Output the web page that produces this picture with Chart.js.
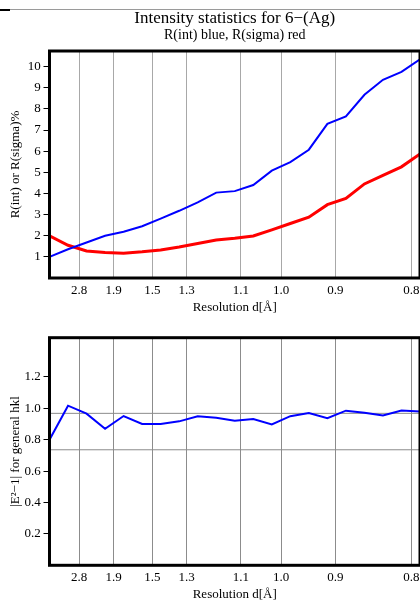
<!DOCTYPE html>
<html>
<head>
<meta charset="utf-8">
<title>Intensity statistics for 6−(Ag)</title>
<script src="https://cdn.jsdelivr.net/npm/chart.js@4/dist/chart.umd.min.js"></script>
<style>
  html, body { margin: 0; padding: 0; background: #fff; }
  body { width: 420px; height: 606px; position: relative; overflow: hidden; }
  .rule { position: absolute; left: 0; top: 9px; width: 420px; height: 1px; background: #9a9a9a; }
  .rule-mark { position: absolute; left: 0; top: 9px; width: 10px; height: 2px; background: #000; }
  #rfactors { position: absolute; left: 0; top: 0; }
  #evalues { position: absolute; left: 0; top: 320px; }
</style>
</head>
<body>
<div class="rule"></div><div class="rule-mark"></div>
<canvas id="rfactors" width="420" height="320"></canvas>
<canvas id="evalues" width="420" height="286"></canvas>
<script>
// Resolution shells, placed on a 1/d^2 axis (Å^-2)
const shellInvD2 = [0.00, 0.08, 0.16, 0.24, 0.32, 0.40, 0.48, 0.56, 0.64, 0.72, 0.80,
                    0.88, 0.96, 1.04, 1.12, 1.20, 1.28, 1.36, 1.44, 1.52, 1.60];

// R(int) per shell, %
const rIntPct = [1.00, 1.36, 1.68, 2.00, 2.19, 2.45, 2.81, 3.18, 3.58, 4.04, 4.11,
                 4.40, 5.08, 5.48, 6.07, 7.29, 7.65, 8.67, 9.38, 9.75, 10.35];

// R(sigma) per shell, %
const rSigmaPct = [2.00, 1.55, 1.28, 1.21, 1.17, 1.24, 1.33, 1.47, 1.63, 1.80, 1.88,
                   1.99, 2.28, 2.58, 2.88, 3.47, 3.76, 4.45, 4.86, 5.26, 5.87];

// <|E^2-1|> for general hkl per shell
const e2minus1 = [0.800, 1.017, 0.966, 0.870, 0.951, 0.900, 0.900, 0.917, 0.949, 0.940, 0.921,
                  0.932, 0.898, 0.950, 0.970, 0.937, 0.985, 0.972, 0.954, 0.986, 0.980];

// Expected <|E^2-1|> for acentric and centric structures
const E2_ACENTRIC = 0.968;
const E2_CENTRIC = 0.736;

// Resolution tick marks, d in Å
const resolutionTicks = [2.8, 1.9, 1.5, 1.3, 1.1, 1.0, 0.9, 0.8];
const resolutionLabels = ['2.8', '1.9', '1.5', '1.3', '1.1', '1.0', '0.9', '0.8'];

const rTicks = [1, 2, 3, 4, 5, 6, 7, 8, 9, 10];
const eTicks = [0.2, 0.4, 0.6, 0.8, 1.0, 1.2];

const SERIF = "'Liberation Serif', 'Times New Roman', Times, serif";
const tickFont = { family: SERIF, size: 13, weight: 'normal', lineHeight: 1.2 };
const axisFont = { family: SERIF, size: 13, weight: 'normal', lineHeight: 1.2 };

// Heavy black box around each plot area
const framePlugin = {
  id: 'frame',
  afterDatasetsDraw(chart) {
    const { ctx, chartArea: a } = chart;
    ctx.save();
    ctx.strokeStyle = '#000';
    ctx.lineWidth = 3;
    ctx.strokeRect(a.left, a.top, a.right - a.left, a.bottom - a.top);
    ctx.restore();
  }
};

function points(ys) {
  return shellInvD2.map((x, i) => ({ x, y: ys[i] }));
}

function resolutionAxis(height, titlePad, gridColor) {
  return {
    type: 'linear',
    min: 0,
    max: 1.6,
    afterBuildTicks(s) { s.ticks = resolutionTicks.map(d => ({ value: 1 / (d * d) })); },
    afterFit(s) {
      s.height = height;
      s.paddingLeft = 0;
      s.paddingRight = 0;
    },
    grid: { drawTicks: false, color: gridColor, lineWidth: 1 },
    border: { display: false },
    ticks: {
      padding: 4.7, color: '#000', font: tickFont, autoSkip: false, maxRotation: 0,
      callback: (v, i) => resolutionLabels[i]
    },
    title: { display: true, text: 'Resolution d[Å]', color: '#000', font: axisFont,
             padding: { top: 0, bottom: titlePad } }
  };
}

function valueAxis(max, tickValues, fmt, label) {
  return {
    type: 'linear',
    min: 0,
    max: max,
    afterBuildTicks(s) { s.ticks = tickValues.map(v => ({ value: v })); },
    afterFit(s) {
      s.width = 49.5;
      s.paddingTop = 0;
      s.paddingBottom = 0;
    },
    grid: { drawOnChartArea: false, drawTicks: true, tickLength: 6, color: '#000', lineWidth: 1 },
    border: { display: false },
    ticks: { padding: 2.8, color: '#000', font: tickFont, callback: fmt },
    title: { display: true, text: label, color: '#000', font: axisFont,
             padding: { top: 8, bottom: 0 } }
  };
}

const lineStyle = { pointRadius: 0, pointHoverRadius: 0, tension: 0, fill: false };

new Chart(document.getElementById('rfactors'), {
  type: 'line',
  data: {
    datasets: [
      Object.assign({ label: 'R(int)', data: points(rIntPct), borderColor: '#0000ff', borderWidth: 2 }, lineStyle),
      Object.assign({ label: 'R(sigma)', data: points(rSigmaPct), borderColor: '#ff0000', borderWidth: 3 }, lineStyle)
    ]
  },
  options: {
    responsive: false,
    animation: false,
    events: [],
    layout: { padding: { top: 0, right: 0, bottom: 0, left: 0 } },
    scales: {
      x: resolutionAxis(42, 5, '#a8a8a8'),
      y: valueAxis(10.74, rTicks, v => String(v), 'R(int) or R(sigma)%')
    },
    plugins: {
      legend: { display: false },
      tooltip: { enabled: false },
      title: {
        display: true, fullSize: false, color: '#000',
        text: 'Intensity statistics for 6−(Ag)',
        font: { family: SERIF, size: 17, weight: 'normal', lineHeight: 1 },
        padding: { top: 10.5, bottom: 0 }
      },
      subtitle: {
        display: true, fullSize: false, color: '#000',
        text: 'R(int) blue, R(sigma) red',
        font: { family: SERIF, size: 14, weight: 'normal', lineHeight: 1 },
        padding: { top: 0.5, bottom: 9 }
      }
    }
  },
  plugins: [framePlugin]
});

new Chart(document.getElementById('evalues'), {
  type: 'line',
  data: {
    datasets: [
      Object.assign({ label: '|E²−1|', data: points(e2minus1), borderColor: '#0000ff', borderWidth: 2 }, lineStyle),
      Object.assign({ label: 'acentric', data: [{ x: 0, y: E2_ACENTRIC }, { x: 1.6, y: E2_ACENTRIC }],
                      borderColor: '#8c8c8c', borderWidth: 1 }, lineStyle),
      Object.assign({ label: 'centric', data: [{ x: 0, y: E2_CENTRIC }, { x: 1.6, y: E2_CENTRIC }],
                      borderColor: '#8c8c8c', borderWidth: 1 }, lineStyle)
    ]
  },
  options: {
    responsive: false,
    animation: false,
    events: [],
    layout: { padding: { top: 17.7, right: 0, bottom: 0, left: 0 } },
    scales: {
      x: resolutionAxis(40.7, 3.4, '#8c8c8c'),
      y: valueAxis(1.45, eTicks, v => v.toFixed(1), '|E²−1| for general hkl')
    },
    plugins: {
      legend: { display: false },
      tooltip: { enabled: false }
    }
  },
  plugins: [framePlugin]
});
</script>
</body>
</html>
